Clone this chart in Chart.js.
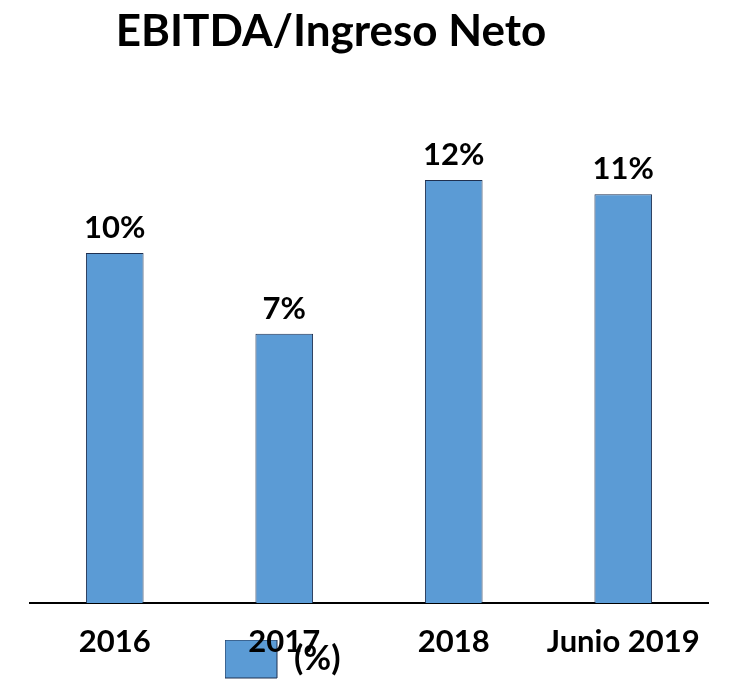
<!DOCTYPE html>
<html>
<head>
<meta charset="utf-8">
<script src="https://cdn.jsdelivr.net/npm/chart.js@4"></script>
<style>
  html, body { margin: 0; padding: 0; background: #fff; }
  #wrap { width: 730px; height: 680px; }
</style>
</head>
<body>
<div id="wrap"><canvas id="myChart"></canvas></div>
<script>
var categories = ['2016', '2017', '2018', 'Junio 2019'];
var ratioValues = [9.93, 7.64, 12.0, 11.6];
var valueLabels = ['10%', '7%', '12%', '11%'];
var seriesName = '(%)';

var FONT = 'Lato, "Open Sans", sans-serif';

// labels above each bar
var barLabels = {
    id: 'barLabels',
    afterDatasetsDraw: function (chart) {
        var ctx = chart.ctx;
        var meta = chart.getDatasetMeta(0);
        ctx.save();
        ctx.font = 'bold 31px ' + FONT;
        ctx.fillStyle = '#000';
        ctx.textAlign = 'center';
        ctx.textBaseline = 'alphabetic';
        meta.data.forEach(function (bar, i) {
            ctx.fillText(valueLabels[i], bar.x, bar.y - 15);
        });
        ctx.restore();
    }
};

// nudge title and legend to where the original puts them
var placeBoxes = {
    id: 'placeBoxes',
    beforeDraw: function (chart) {
        chart.titleBlock.left = 0;
        chart.titleBlock.right = 662;
        chart.legend.left = 225;
        chart.legend.top += 8;
        chart.legend.bottom += 8;
        // let the tick labels run past the shortened axis box
        chart.scales.x.bottom = chart.height;
    }
};

var ctx = document.getElementById('myChart').getContext('2d');
var barChart = new Chart(ctx, {
    type: 'bar',
    data: {
        labels: categories,
        datasets: [{
            label: seriesName,
            data: ratioValues,
            backgroundColor: '#5B9BD5',
            borderColor: '#1F3050',
            borderWidth: 1,
            borderSkipped: 'bottom',
            barPercentage: 0.34,
            categoryPercentage: 1
        }]
    },
    options: {
        responsive: true,
        maintainAspectRatio: false,
        animation: false,
        layout: { padding: { left: 30, right: 22, top: 0, bottom: 0 } },
        plugins: {
            title: {
                display: true,
                text: 'EBITDA/Ingreso Neto',
                color: '#000',
                font: { family: FONT, size: 44, weight: 'bold' },
                padding: { top: 5, bottom: 43 }
            },
            legend: {
                display: true,
                position: 'bottom',
                align: 'start',
                labels: {
                    color: '#000',
                    font: { family: FONT, size: 34, weight: 'bold' },
                    boxWidth: 52,
                    boxHeight: 38,
                    padding: 0
                }
            },
            tooltip: { enabled: false }
        },
        scales: {
            x: {
                grid: { display: false },
                border: { display: true, color: '#000', width: 2 },
                ticks: {
                    color: '#000',
                    font: { family: FONT, size: 31, weight: 'bold' },
                    padding: 12,
                    maxRotation: 0
                },
                afterFit: function (scale) { scale.height = 29; }
            },
            y: {
                display: false,
                min: 0,
                max: 14.25
            }
        }
    },
    plugins: [barLabels, placeBoxes]
});
</script>
</body>
</html>
